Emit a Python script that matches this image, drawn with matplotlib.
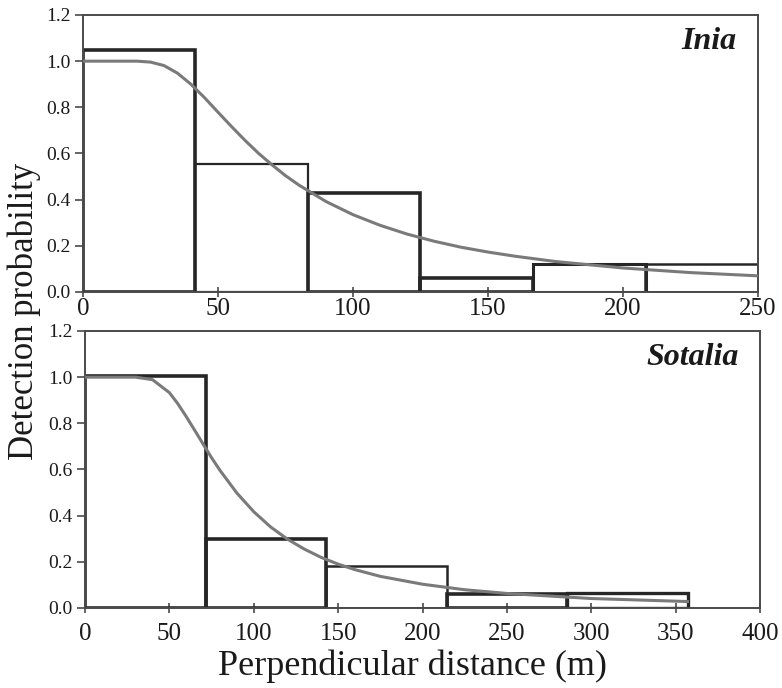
import matplotlib
matplotlib.use("Agg")
import matplotlib.pyplot as plt

plt.rcParams['font.family'] = ['Liberation Serif', 'DejaVu Serif']

# Inia: histogram of scaled detection counts and the fitted detection curve
inia_edges = [0, 41.67, 83.33, 125.0, 166.67, 208.33]
inia_width = 41.67
inia_heights = [1.05, 0.555, 0.43, 0.062, 0.122, 0.122]
inia_curve_x = [0, 10, 15, 20, 25, 30, 35, 40, 45, 50, 55, 60, 65, 70, 75, 80,
                90, 100, 110, 120, 130, 140, 150, 160, 175, 200, 225, 250]
inia_curve_y = [1.0, 1.0, 1.0, 1.0, 0.996, 0.981, 0.948, 0.900, 0.842, 0.779,
                0.717, 0.657, 0.601, 0.551, 0.504, 0.463, 0.392, 0.335, 0.289,
                0.251, 0.220, 0.194, 0.173, 0.155, 0.132, 0.104, 0.084, 0.070]

# Sotalia
sotalia_edges = [0, 71.43, 142.86, 214.29, 285.71]
sotalia_width = 71.43
sotalia_heights = [1.005, 0.30, 0.182, 0.062, 0.066]
sotalia_curve_x = [0, 20, 30, 40, 50, 55, 60, 65, 70, 75, 80, 90, 100, 110, 120,
                   130, 140, 150, 160, 175, 200, 225, 250, 300, 357]
sotalia_curve_y = [1.0, 1.0, 1.0, 0.989, 0.933, 0.885, 0.829, 0.770, 0.710,
                   0.651, 0.596, 0.498, 0.417, 0.351, 0.298, 0.255, 0.219,
                   0.190, 0.166, 0.137, 0.103, 0.079, 0.063, 0.041, 0.028]

y_ticks = [0.0, 0.2, 0.4, 0.6, 0.8, 1.0, 1.2]
inia_xticks = [0, 50, 100, 150, 200, 250]
sotalia_xticks = [0, 50, 100, 150, 200, 250, 300, 350, 400]

# line widths for the bar outlines (some bins are drawn heavier in the original)
inia_lw = [2.6, 1.6, 2.6, 2.6, 2.2, 1.8]
sotalia_lw = [2.6, 2.6, 1.8, 2.6, 2.4]

bar_col = '#262626'
curve_col = '#7a7a7a'
spine_col = '#4a4a4a'

fig = plt.figure(figsize=(7.82, 6.88), dpi=100)
ax1 = fig.add_axes([0.1061, 0.5756, 0.8632, 0.4026])
ax2 = fig.add_axes([0.1087, 0.1163, 0.8632, 0.4026])


def draw_panel(ax, edges, width, heights, lws, cx, cy, xmax, xticks, name, xpad):
    ax.bar(edges, heights, width=width, align='edge', fill=False,
           edgecolor=bar_col, linewidth=lws, zorder=2)
    ax.plot(cx, cy, color=curve_col, linewidth=2.2, zorder=3)
    ax.set_xlim(0, xmax)
    ax.set_ylim(0, 1.2)
    ax.set_xticks(xticks)
    ax.set_yticks(y_ticks)
    ax.set_yticklabels([f"{v:.1f}" for v in y_ticks])
    ax.tick_params(axis='x', direction='inout', length=7, width=1.2,
                   labelsize=18, pad=xpad, colors=spine_col, labelcolor='#1a1a1a')
    ax.tick_params(axis='y', direction='out', length=6, width=1.2,
                   labelsize=14, pad=3, colors=spine_col, labelcolor='#1a1a1a')
    for s in ax.spines.values():
        s.set_color(spine_col)
        s.set_linewidth(1.4)
    ax.text(0.968, 0.955, name, transform=ax.transAxes, ha='right', va='top',
            fontsize=23, style='italic', fontweight='bold', color='#1a1a1a')


draw_panel(ax1, inia_edges, inia_width, inia_heights, inia_lw,
           inia_curve_x, inia_curve_y, 250, inia_xticks, 'Inia', 0.5)
draw_panel(ax2, sotalia_edges, sotalia_width, sotalia_heights, sotalia_lw,
           sotalia_curve_x, sotalia_curve_y, 400, sotalia_xticks, 'Sotalia', 7)

fig.text(0.031, 0.548, 'Detection probability', rotation=90, ha='center',
         va='center', fontsize=25, color='#1a1a1a')
fig.text(0.527, 0.031, 'Perpendicular distance (m)', ha='center', va='center',
         fontsize=26, color='#1a1a1a')

fig.savefig('out.png', dpi=100)
